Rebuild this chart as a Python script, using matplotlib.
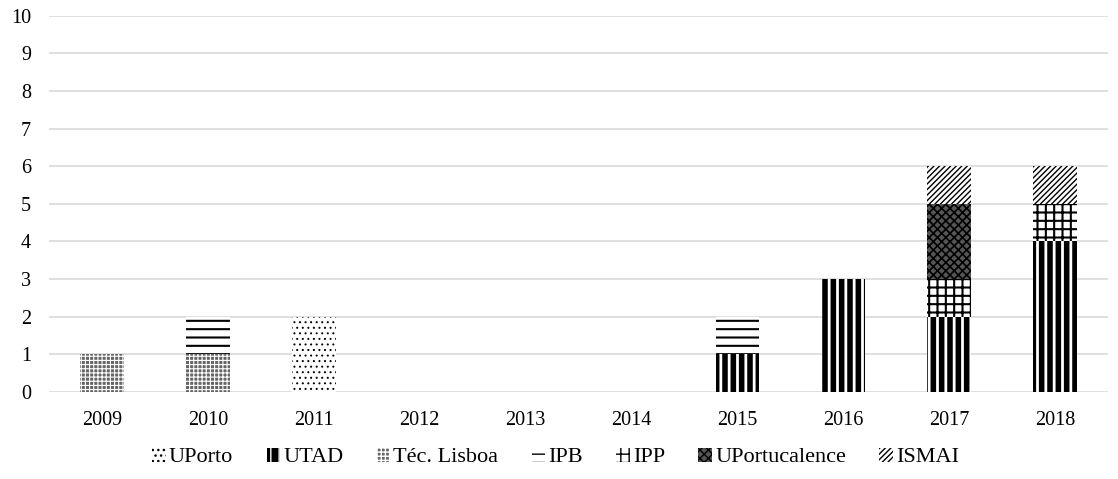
import matplotlib.pyplot as plt
import numpy as np

plt.rcParams['font.family'] = ['Liberation Serif', 'DejaVu Serif']

years = ['2009', '2010', '2011', '2012', '2013', '2014', '2015', '2016', '2017', '2018']
uporto = [0, 0, 2, 0, 0, 0, 0, 0, 0, 0]
utad = [0, 0, 0, 0, 0, 0, 1, 3, 2, 4]
tec_lisboa = [1, 1, 0, 0, 0, 0, 0, 0, 0, 0]
ipb = [0, 1, 0, 0, 0, 0, 1, 0, 0, 0]
ipp = [0, 0, 0, 0, 0, 0, 0, 0, 1, 1]
uportucalence = [0, 0, 0, 0, 0, 0, 0, 0, 2, 0]
ismai = [0, 0, 0, 0, 0, 0, 0, 0, 1, 1]

series = [
    ('UPorto', uporto, dict(facecolor='white', edgecolor='black', hatch='...', lw=0.7)),
    ('UTAD', utad, dict(facecolor='black', edgecolor='white', hatch='||', lw=2.0)),
    ('Téc. Lisboa', tec_lisboa, dict(facecolor='#666666', edgecolor='white', hatch='++++', lw=0.8)),
    ('IPB', ipb, dict(facecolor='white', edgecolor='black', hatch='--', lw=1.5)),
    ('IPP', ipp, dict(facecolor='white', edgecolor='black', hatch='++', lw=1.5)),
    ('UPortucalence', uportucalence, dict(facecolor='#555555', edgecolor='black', hatch='xxxx', lw=1.2)),
    ('ISMAI', ismai, dict(facecolor='white', edgecolor='black', hatch='//////', lw=1.0)),
]

fig = plt.figure(figsize=(11.18, 4.79), dpi=100)
ax = fig.add_axes([0.044, 0.182, 0.947, 0.785])

x = np.arange(len(years))
bottom = np.zeros(len(years))
handles = []
for name, vals, st in series:
    vals = np.array(vals, dtype=float)
    with plt.rc_context({'hatch.linewidth': st['lw']}):
        bars = ax.bar(x, vals, 0.41, bottom=bottom, facecolor=st['facecolor'],
                      edgecolor=st['edgecolor'], hatch=st['hatch'], linewidth=0,
                      label=name, zorder=3)
    handles.append(bars)
    bottom += vals

ax.set_xlim(-0.5, len(years) - 0.5)
ax.set_ylim(0, 10)
ax.set_yticks(range(0, 11))
ax.set_xticks(x)
ax.set_xticklabels(years)
ax.tick_params(axis='y', length=0, labelsize=14.5, pad=13)
ax.tick_params(axis='x', length=0, labelsize=14.5, pad=14)
ax.grid(axis='y', color='#d9d9d9', linewidth=1.2, zorder=0)
for s in ax.spines.values():
    s.set_visible(False)

fig.legend(handles=handles, loc='center', ncol=7, frameon=False,
           fontsize=16, bbox_to_anchor=(0.497, 0.045), handlelength=0.6,
           handleheight=0.6, handletextpad=0.15, columnspacing=1.5)

fig.savefig('out.png', dpi=100)
